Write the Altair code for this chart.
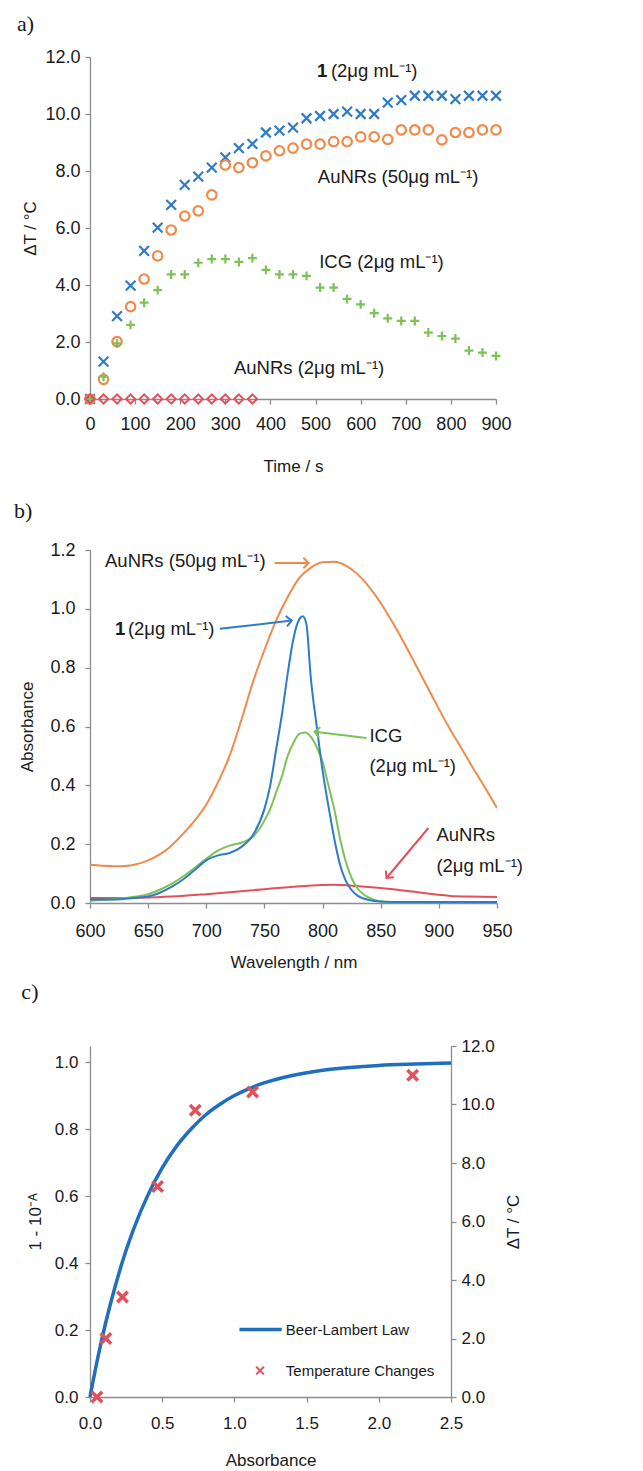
import altair as alt
import pandas as pd

FONT = "Liberation Sans"
SERIF = "Liberation Serif"
INK = "#1a1a1a"
AXC = "#8c8c8c"
BLUE = "#2f7cc4"
ORANGE = "#f08a4b"
GREEN = "#7cc257"
RED = "#e4505a"

# ---------------- panel a data (time course) ----------------
time_s = [0, 30, 60, 90, 120, 150, 180, 210, 240, 270, 300, 330, 360, 390, 420, 450,
          480, 510, 540, 570, 600, 630, 660, 690, 720, 750, 780, 810, 840, 870, 900]
dt_cmpd1 = [0, 1.31, 2.91, 3.98, 5.2, 6.01, 6.81, 7.51, 7.8, 8.12, 8.48, 8.8, 8.95, 9.35, 9.42, 9.52,
            9.85, 9.93, 10.0, 10.08, 10.0, 10.0, 10.4, 10.49, 10.64, 10.64, 10.64, 10.52, 10.64, 10.64, 10.64]
dt_aunr50 = [0, 0.69, 2.01, 3.24, 4.21, 5.02, 5.93, 6.42, 6.6, 7.16, 8.21, 8.12, 8.29, 8.53, 8.71, 8.8,
             8.94, 8.94, 9.03, 9.03, 9.2, 9.2, 9.11, 9.44, 9.44, 9.44, 9.09, 9.35, 9.35, 9.44, 9.44]
dt_icg = [0, 0.78, 1.95, 2.6, 3.38, 3.82, 4.37, 4.37, 4.78, 4.91, 4.91, 4.81, 4.94, 4.53, 4.37, 4.37,
          4.32, 3.91, 3.91, 3.51, 3.32, 3.01, 2.83, 2.74, 2.74, 2.33, 2.21, 2.12, 1.70, 1.63, 1.51]
time_aunr2 = [0, 30, 60, 90, 120, 150, 180, 210, 240, 270, 300, 330, 360]
dt_aunr2 = [0, 0, 0, 0, 0, 0, 0, 0, 0, 0, 0, 0, 0]

a_labels = ["1", "(2μg mL⁻¹)", "AuNRs (50μg mL⁻¹)", "ICG (2μg mL⁻¹)", "AuNRs (2μg mL⁻¹)"]
a_label_t = [503, 534, 505, 508, 319]
a_label_dt = [11.5, 11.5, 7.79, 4.81, 1.09]
a_label_bold = [True, False, False, False, False]

# ---------------- panel b data (absorbance spectra) ----------------
wl_aunr50 = [600, 610, 620, 630, 640, 650, 660, 670, 680, 690, 700, 710, 720, 730, 740, 750, 760,
             770, 780, 790, 800, 810, 820, 830, 840, 850, 860, 870, 880, 890, 900, 910, 920, 930, 940, 950]
ab_aunr50 = [0.130, 0.127, 0.125, 0.126, 0.132, 0.145, 0.165, 0.195, 0.235, 0.28, 0.335, 0.41, 0.50,
             0.62, 0.75, 0.86, 0.96, 1.04, 1.105, 1.14, 1.158, 1.16, 1.147, 1.118, 1.075, 1.02, 0.955,
             0.885, 0.81, 0.735, 0.66, 0.588, 0.522, 0.455, 0.39, 0.323]
wl_cmpd1 = [600, 620, 640, 650, 660, 670, 680, 690, 700, 710, 720, 730, 740, 750, 755, 760, 765, 770,
            775, 780, 783, 786, 790, 795, 800, 805, 810, 815, 820, 830, 840, 850, 870, 900, 950]
ab_cmpd1 = [0.012, 0.012, 0.018, 0.022, 0.035, 0.055, 0.08, 0.112, 0.145, 0.162, 0.170, 0.19, 0.23,
            0.32, 0.40, 0.52, 0.64, 0.78, 0.90, 0.965, 0.975, 0.95, 0.76, 0.60, 0.45, 0.33, 0.22, 0.13,
            0.075, 0.025, 0.01, 0.005, 0.003, 0.003, 0.003]
wl_icg = [600, 620, 640, 650, 660, 670, 680, 690, 700, 710, 720, 730, 740, 750, 755, 760, 765, 770,
          775, 780, 785, 790, 795, 800, 805, 810, 815, 820, 825, 830, 840, 850, 870, 950]
ab_icg = [0.008, 0.013, 0.022, 0.03, 0.045, 0.065, 0.09, 0.12, 0.15, 0.178, 0.195, 0.205, 0.225, 0.28,
          0.32, 0.375, 0.43, 0.50, 0.545, 0.575, 0.58, 0.565, 0.53, 0.48, 0.40, 0.32, 0.22, 0.14, 0.085,
          0.05, 0.018, 0.005, 0.0, 0.0]
wl_aunr2 = [600, 625, 650, 675, 700, 725, 750, 775, 800, 810, 825, 850, 875, 900, 910, 925, 950]
ab_aunr2 = [0.017, 0.017, 0.019, 0.023, 0.03, 0.038, 0.047, 0.055, 0.061, 0.062, 0.059, 0.051, 0.04,
            0.028, 0.024, 0.022, 0.02]

b_labels = ["AuNRs (50μg mL⁻¹)", "1", "(2μg mL⁻¹)", "ICG", "(2μg mL⁻¹)", "AuNRs", "(2μg mL⁻¹)"]
b_label_wl = [612.9, 621.5, 632.6, 840.3, 840.3, 897.9, 897.9]
b_label_ab = [1.164, 0.932, 0.932, 0.568, 0.467, 0.231, 0.127]
b_label_bold = [False, True, False, False, False, False, False]

b_arrow_series = ["AuNRs (50μg mL⁻¹)", "1 (2μg mL⁻¹)", "ICG (2μg mL⁻¹)", "AuNRs (2μg mL⁻¹)"]
b_arrow_from_wl = [758.8, 711.6, 837.8, 891.0]
b_arrow_from_ab = [1.156, 0.932, 0.561, 0.255]
b_arrow_to_wl = [788.0, 773.4, 793.1, 855.0]
b_arrow_to_ab = [1.156, 0.960, 0.582, 0.085]
b_arrow_angle = [0, 353, 187, 130]

# ---------------- panel c data ----------------
absorb_curve = [0, 0.05, 0.1, 0.15, 0.2, 0.25, 0.3, 0.4, 0.5, 0.6, 0.7, 0.8, 0.9, 1.0,
                1.2, 1.4, 1.6, 1.8, 2.0, 2.25, 2.5]
frac_absorbed = [0, 0.109, 0.206, 0.292, 0.369, 0.438, 0.499, 0.602, 0.684, 0.749, 0.800, 0.842,
                 0.874, 0.900, 0.937, 0.960, 0.975, 0.984, 0.990, 0.994, 0.997]
absorb_pts = [0.048, 0.11, 0.225, 0.468, 0.729, 1.126, 2.234]
dt_pts = [0, 2.0, 3.42, 7.2, 9.8, 10.43, 11.0]

c_legend_labels = ["Beer-Lambert Law", "Temperature Changes"]
c_legend_y = [0.2015, 0.079]
c_legend_x = [1.035, 1.178]
c_legend_x2 = [1.328, 1.178]
c_legend_text_x = [1.356, 1.356]

X_SHAPE = "M-1,-1L1,1M-1,1L1,-1"
PLUS_SHAPE = "M-1,0L1,0M0,-1L0,1"
HEAD_SHAPE = "M-1,-1L0,0L-1,1"

TTL = 17
ANN = 18.5


def pts(xs, ys):
    return pd.DataFrame({"x": xs, "y": ys})


# ================= panel a =================
def ax_a_x():
    return alt.X("x:Q", scale=alt.Scale(domain=[0, 900], nice=False),
                 axis=alt.Axis(values=list(range(0, 901, 100)), title="Time  / s", grid=False,
                               labelFontSize=18, labelFlush=False, labelPadding=11, titlePadding=25))


def ax_a_y():
    return alt.Y("y:Q", scale=alt.Scale(domain=[0, 12], nice=False),
                 axis=alt.Axis(values=list(range(0, 13, 2)), format=".1f", title="ΔT / °C", grid=False,
                               labelFontSize=18, labelPadding=5, titlePadding=5))


a_c1 = alt.Chart(pts(time_s, dt_cmpd1)).mark_point(
    shape=X_SHAPE, filled=False, color=BLUE, strokeWidth=2.2, size=95, opacity=1
).encode(x=ax_a_x(), y=ax_a_y())
a_au50 = alt.Chart(pts(time_s, dt_aunr50)).mark_point(
    shape="circle", filled=False, color=ORANGE, strokeWidth=2.2, size=90, opacity=1
).encode(x=ax_a_x(), y=ax_a_y())
a_icg = alt.Chart(pts(time_s, dt_icg)).mark_point(
    shape=PLUS_SHAPE, filled=False, color=GREEN, strokeWidth=2.2, size=80, opacity=1
).encode(x=ax_a_x(), y=ax_a_y())
a_au2 = alt.Chart(pts(time_aunr2, dt_aunr2)).mark_point(
    shape="diamond", filled=False, color=RED, strokeWidth=2, size=85, opacity=1
).encode(x=ax_a_x(), y=ax_a_y())

a_ann = pd.DataFrame({"x": a_label_t, "y": a_label_dt, "t": a_labels,
                      "w": ["bold" if b else "normal" for b in a_label_bold]})
a_txt_n = alt.Chart(a_ann).transform_filter("datum.w == 'normal'").mark_text(
    align="left", baseline="middle", font=FONT, fontSize=ANN, color=INK
).encode(x=ax_a_x(), y=ax_a_y(), text="t:N")
a_txt_b = alt.Chart(a_ann).transform_filter("datum.w == 'bold'").mark_text(
    align="left", baseline="middle", font=FONT, fontSize=ANN, color=INK, fontWeight="bold"
).encode(x=ax_a_x(), y=ax_a_y(), text="t:N")

# invisible spacer below panel a (keeps the gap above panel b as in the figure)
a_spacer = alt.Chart(pts([0], [0])).mark_rule(opacity=0, strokeWidth=1).encode(
    x=alt.value(0), x2=alt.value(2), y=alt.value(432))

panel_a = alt.layer(a_c1, a_au50, a_icg, a_au2, a_txt_n, a_txt_b, a_spacer).properties(
    width=406, height=342,
    title=alt.TitleParams("a)", anchor="start", font=SERIF, fontSize=22, fontWeight="normal",
                          color=INK, offset=12, dx=-5))


# ================= panel b =================
def ax_b_x(field="x"):
    return alt.X(field + ":Q", scale=alt.Scale(domain=[600, 950], nice=False),
                 axis=alt.Axis(values=list(range(600, 951, 50)), title="Wavelength  / nm", grid=False,
                               labelFontSize=18, labelFlush=False, labelPadding=14, titlePadding=14))


def ax_b_y(field="y"):
    return alt.Y(field + ":Q", scale=alt.Scale(domain=[0, 1.2], nice=False),
                 axis=alt.Axis(values=[0, 0.2, 0.4, 0.6, 0.8, 1.0, 1.2], format=".1f", grid=False,
                               labelFontSize=18, title="Absorbance", labelPadding=10, titlePadding=13))


spec_rows = []
for name, wl, ab in [("AuNRs (50μg mL⁻¹)", wl_aunr50, ab_aunr50),
                     ("AuNRs (2μg mL⁻¹)", wl_aunr2, ab_aunr2),
                     ("ICG (2μg mL⁻¹)", wl_icg, ab_icg),
                     ("1 (2μg mL⁻¹)", wl_cmpd1, ab_cmpd1)]:
    for w, a in zip(wl, ab):
        spec_rows.append({"series": name, "x": w, "y": a})
spec_df = pd.DataFrame(spec_rows)

series_dom = ["AuNRs (50μg mL⁻¹)", "AuNRs (2μg mL⁻¹)", "ICG (2μg mL⁻¹)", "1 (2μg mL⁻¹)"]
series_col = [ORANGE, RED, GREEN, BLUE]
col_enc = alt.Color("series:N", scale=alt.Scale(domain=series_dom, range=series_col), legend=None)

b_lines = alt.Chart(spec_df).mark_line(strokeWidth=2, interpolate="monotone", clip=True).encode(
    x=ax_b_x(), y=ax_b_y(), color=col_enc, detail="series:N")

b_arr = pd.DataFrame({"series": b_arrow_series, "x": b_arrow_from_wl, "y": b_arrow_from_ab,
                      "x2": b_arrow_to_wl, "y2": b_arrow_to_ab, "ang": b_arrow_angle})
b_shaft = alt.Chart(b_arr).mark_rule(strokeWidth=2).encode(
    x=ax_b_x(), y=ax_b_y(), x2="x2:Q", y2="y2:Q", color=col_enc)
b_head = alt.Chart(b_arr).mark_point(shape=HEAD_SHAPE, filled=False, strokeWidth=2, size=110,
                                     opacity=1).encode(
    x=ax_b_x("x2"), y=ax_b_y("y2"), angle=alt.Angle("ang:Q", scale=None), color=col_enc)

b_ann = pd.DataFrame({"x": b_label_wl, "y": b_label_ab, "t": b_labels,
                      "w": ["bold" if b else "normal" for b in b_label_bold]})
b_txt_n = alt.Chart(b_ann).transform_filter("datum.w == 'normal'").mark_text(
    align="left", baseline="middle", font=FONT, fontSize=ANN, color=INK
).encode(x=ax_b_x(), y=ax_b_y(), text="t:N")
b_txt_b = alt.Chart(b_ann).transform_filter("datum.w == 'bold'").mark_text(
    align="left", baseline="middle", font=FONT, fontSize=ANN, color=INK, fontWeight="bold"
).encode(x=ax_b_x(), y=ax_b_y(), text="t:N")

panel_b = alt.layer(b_lines, b_shaft, b_head, b_txt_n, b_txt_b).properties(
    width=407, height=353,
    title=alt.TitleParams("b)", anchor="start", font=SERIF, fontSize=22, fontWeight="normal",
                          color=INK, offset=18, dx=-5))


# ================= panel c =================
def ax_c_x(field="x"):
    return alt.X(field + ":Q", scale=alt.Scale(domain=[0, 2.5], nice=False),
                 axis=alt.Axis(values=[0, 0.5, 1.0, 1.5, 2.0, 2.5], format=".1f", title="Absorbance",
                               grid=False, labelFontSize=17, labelFlush=False, labelPadding=13,
                               titlePadding=21))


def ax_c_yl(field="y"):
    return alt.Y(field + ":Q", scale=alt.Scale(domain=[0, 1.048], nice=False),
                 axis=alt.Axis(values=[0, 0.2, 0.4, 0.6, 0.8, 1.0], format=".1f", title="1 - 10⁻ᴬ",
                               grid=False, labelFontSize=17, labelPadding=7, titlePadding=10))


def ax_c_yr(field="y"):
    return alt.Y(field + ":Q", scale=alt.Scale(domain=[0, 12], nice=False),
                 axis=alt.Axis(values=list(range(0, 13, 2)), format=".1f", title="ΔT / °C",
                               grid=False, orient="right", labelFontSize=17, labelPadding=5,
                               titlePadding=28, titleAngle=270))


curve_df = pd.DataFrame({"x": absorb_curve, "y": frac_absorbed})
c_curve = alt.Chart(curve_df).mark_line(color="#1f6fbe", strokeWidth=3.5, interpolate="monotone").encode(
    x=ax_c_x(), y=ax_c_yl())

leg_df = pd.DataFrame({"x": c_legend_x, "x2": c_legend_x2, "y": c_legend_y, "t": c_legend_labels,
                       "tx": c_legend_text_x})
c_leg_line = alt.Chart(leg_df.iloc[[0]]).mark_rule(color="#1f6fbe", strokeWidth=3.5).encode(
    x=ax_c_x(), x2="x2:Q", y=ax_c_yl())
c_leg_x = alt.Chart(leg_df.iloc[[1]]).mark_point(shape=X_SHAPE, filled=False, color=RED,
                                                 strokeWidth=2, size=60, opacity=1).encode(
    x=ax_c_x(), y=ax_c_yl())
c_leg_txt = alt.Chart(leg_df).mark_text(align="left", baseline="middle", font=FONT, fontSize=15,
                                        color=INK).encode(
    x=ax_c_x("tx"), y=ax_c_yl(), text="t:N")

c_left = alt.layer(c_curve, c_leg_line, c_leg_x, c_leg_txt)

c_pts = alt.Chart(pts(absorb_pts, dt_pts)).mark_point(
    shape=X_SHAPE, filled=False, color=RED, strokeWidth=3.5, size=110, opacity=1
).encode(x=ax_c_x(), y=ax_c_yr())

panel_c = alt.layer(c_left, c_pts).resolve_scale(y="independent").properties(
    width=361, height=351,
    title=alt.TitleParams("c)", anchor="start", font=SERIF, fontSize=22, fontWeight="normal",
                          color=INK, offset=33, dx=-5))

chart = alt.vconcat(panel_a, panel_b, panel_c, spacing=11).configure_view(
    stroke=None
).configure_axis(
    grid=False, domainColor=AXC, tickColor=AXC, domainWidth=1.3, tickWidth=1.3, tickSize=5,
    labelFont=FONT, titleFont=FONT, titleFontSize=TTL, labelColor=INK,
    titleColor=INK, titleFontWeight="normal",
)

chart.save("out.html", embed_options={"renderer": "svg", "actions": False})
